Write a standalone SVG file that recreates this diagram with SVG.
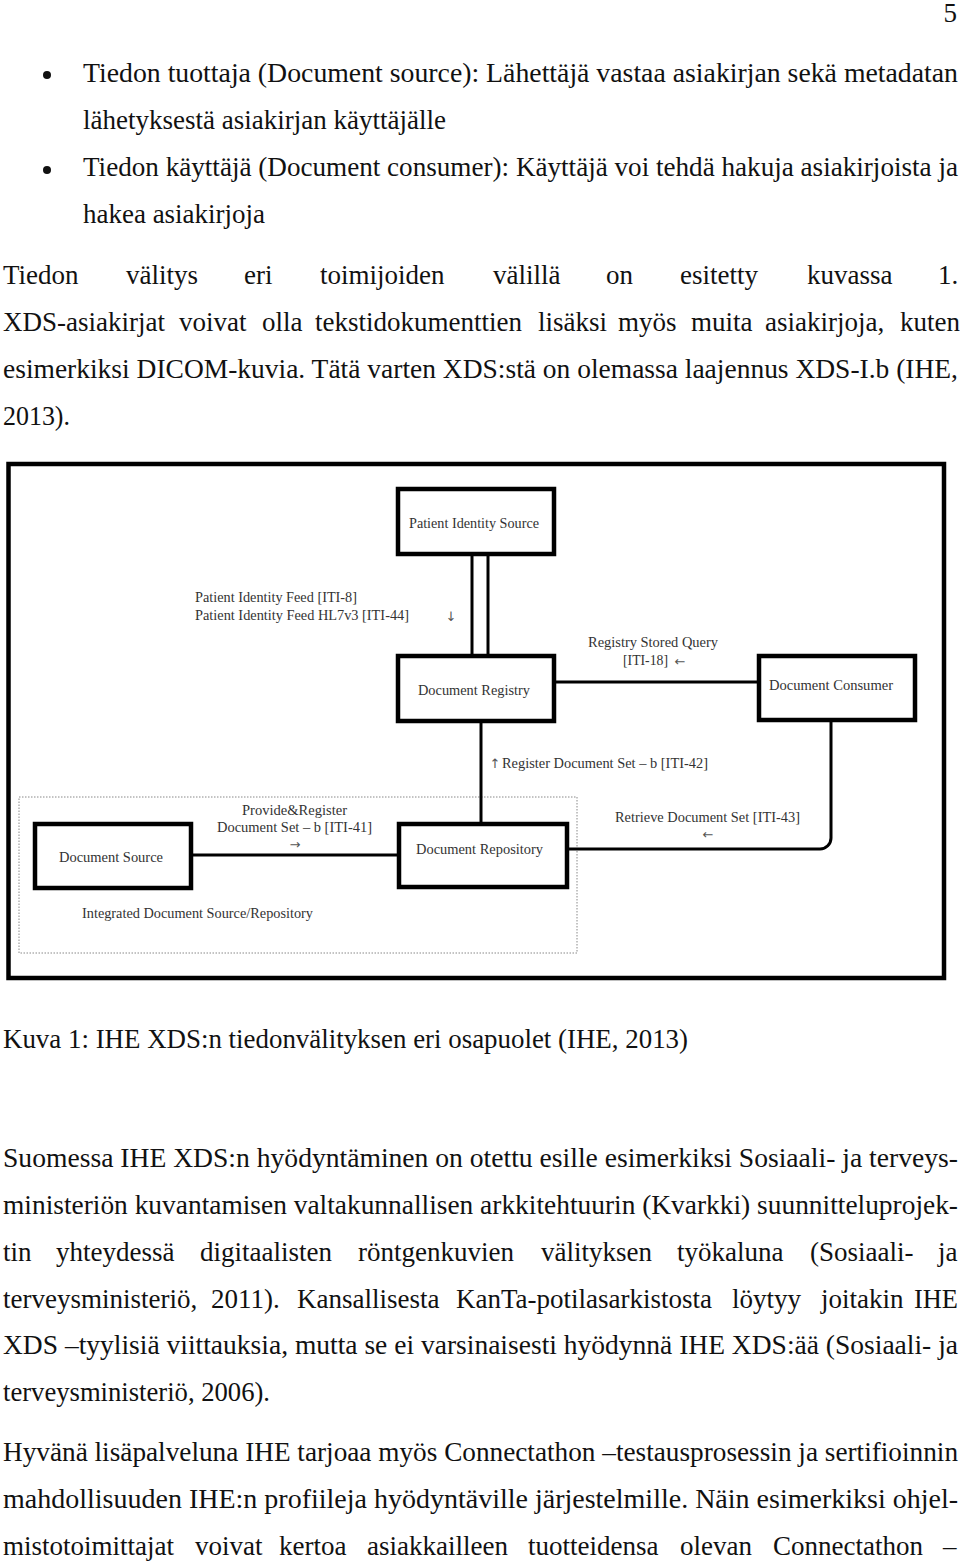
<svg xmlns="http://www.w3.org/2000/svg" width="960" height="1561" viewBox="0 0 960 1561">
<style>
.t{font-family:"Liberation Serif","Times New Roman",serif;font-size:27px;fill:#111}
.l{font-family:"Liberation Serif","DejaVu Serif",serif;font-size:14px;fill:#333}
.ar{font-family:"DejaVu Sans","Liberation Serif",sans-serif;font-size:13px;fill:#555}
.box{fill:#fff;stroke:#000;stroke-width:4.5}
.c{fill:none;stroke:#000;stroke-width:3}
</style>
<rect width="960" height="1561" fill="#fff"/>
<g id="page-text">
<text class="t" x="957" y="22" text-anchor="end">5</text>
<circle cx="47" cy="75" r="4" fill="#111"/>
<circle cx="47" cy="170" r="4" fill="#111"/>
<text class="t" x="83" y="82" textLength="875" lengthAdjust="spacingAndGlyphs">Tiedon tuottaja (Document source): Lähettäjä vastaa asiakirjan sekä metadatan</text>
<text class="t" x="83" y="129" textLength="363" lengthAdjust="spacingAndGlyphs">lähetyksestä asiakirjan käyttäjälle</text>
<text class="t" x="83" y="176" textLength="875" lengthAdjust="spacingAndGlyphs">Tiedon käyttäjä (Document consumer): Käyttäjä voi tehdä hakuja asiakirjoista ja</text>
<text class="t" x="83" y="223" textLength="182" lengthAdjust="spacingAndGlyphs">hakea asiakirjoja</text>
<text class="t" y="284"><tspan x="3">Tiedon</tspan><tspan x="126">välitys</tspan><tspan x="244">eri</tspan><tspan x="320">toimijoiden</tspan><tspan x="493">välillä</tspan><tspan x="606">on</tspan><tspan x="680">esitetty</tspan><tspan x="807">kuvassa</tspan><tspan x="938">1.</tspan></text>
<text class="t" y="331"><tspan x="3">XDS-asiakirjat</tspan><tspan x="179">voivat</tspan><tspan x="262">olla</tspan><tspan x="315">tekstidokumenttien</tspan><tspan x="538">lisäksi</tspan><tspan x="618">myös</tspan><tspan x="691">muita</tspan><tspan x="765">asiakirjoja,</tspan><tspan x="900">kuten</tspan></text>
<text class="t" x="3" y="378" textLength="955" lengthAdjust="spacingAndGlyphs">esimerkiksi DICOM-kuvia. Tätä varten XDS:stä on olemassa laajennus XDS-I.b (IHE,</text>
<text class="t" x="3" y="425" textLength="67" lengthAdjust="spacingAndGlyphs">2013).</text>
<text class="t" x="3" y="1048" textLength="685" lengthAdjust="spacingAndGlyphs">Kuva 1: IHE XDS:n tiedonvälityksen eri osapuolet (IHE, 2013)</text>
<text class="t" x="3" y="1167" textLength="955" lengthAdjust="spacingAndGlyphs">Suomessa IHE XDS:n hyödyntäminen on otettu esille esimerkiksi Sosiaali- ja terveys-</text>
<text class="t" x="3" y="1214" textLength="955" lengthAdjust="spacingAndGlyphs">ministeriön kuvantamisen valtakunnallisen arkkitehtuurin (Kvarkki) suunnitteluprojek-</text>
<text class="t" y="1261"><tspan x="3">tin</tspan><tspan x="56">yhteydessä</tspan><tspan x="200">digitaalisten</tspan><tspan x="358">röntgenkuvien</tspan><tspan x="541">välityksen</tspan><tspan x="677">työkaluna</tspan><tspan x="810">(Sosiaali-</tspan><tspan x="938">ja</tspan></text>
<text class="t" y="1308"><tspan x="3">terveysministeriö,</tspan><tspan x="211">2011).</tspan><tspan x="297">Kansallisesta</tspan><tspan x="456">KanTa-potilasarkistosta</tspan><tspan x="732">löytyy</tspan><tspan x="821">joitakin</tspan></text>
<text class="t" x="914" y="1308" textLength="44" lengthAdjust="spacingAndGlyphs">IHE</text>
<text class="t" x="3" y="1354" textLength="955" lengthAdjust="spacingAndGlyphs">XDS –tyylisiä viittauksia, mutta se ei varsinaisesti hyödynnä IHE XDS:ää (Sosiaali- ja</text>
<text class="t" x="3" y="1401" textLength="267" lengthAdjust="spacingAndGlyphs">terveysministeriö, 2006).</text>
<text class="t" x="3" y="1461" textLength="955" lengthAdjust="spacingAndGlyphs">Hyvänä lisäpalveluna IHE tarjoaa myös Connectathon –testausprosessin ja sertifioinnin</text>
<text class="t" x="3" y="1508" textLength="955" lengthAdjust="spacingAndGlyphs">mahdollisuuden IHE:n profiileja hyödyntäville järjestelmille. Näin esimerkiksi ohjel-</text>
<text class="t" y="1555"><tspan x="3">mistotoimittajat</tspan><tspan x="195">voivat</tspan><tspan x="279">kertoa</tspan><tspan x="367">asiakkailleen</tspan><tspan x="528">tuotteidensa</tspan><tspan x="680">olevan</tspan><tspan x="773">Connectathon</tspan><tspan x="943">–</tspan></text>
</g>
<g id="figure">
<rect x="8.5" y="464" width="935.5" height="514" fill="none" stroke="#000" stroke-width="4.5"/>
<rect id="integrated-group" x="19" y="797" width="558" height="156" fill="none" stroke="#888" stroke-width="1" stroke-dasharray="1.5 1.5"/>
<g id="connectors">
<line class="c" x1="472" y1="556" x2="472" y2="654"/>
<line class="c" x1="488" y1="556" x2="488" y2="654"/>
<line class="c" x1="556" y1="682" x2="757" y2="682"/>
<line class="c" x1="481" y1="723" x2="481" y2="822"/>
<line class="c" x1="193" y1="855" x2="397" y2="855"/>
<path class="c" d="M831 722 V838 A11 11 0 0 1 820 849 H569"/>
<text class="l" x="195" y="602" textLength="162" lengthAdjust="spacingAndGlyphs">Patient Identity Feed [ITI-8]</text>
<text class="l" x="195" y="620" textLength="214" lengthAdjust="spacingAndGlyphs">Patient Identity Feed HL7v3 [ITI-44]</text>
<text class="ar" x="451" y="621" text-anchor="middle">↓</text>
<text class="l" x="588" y="647" textLength="130" lengthAdjust="spacingAndGlyphs">Registry Stored Query</text>
<text class="l" x="623" y="665" textLength="45" lengthAdjust="spacingAndGlyphs">[ITI-18]</text>
<text class="ar" x="680" y="666" text-anchor="middle" fill="#222">←</text>
<text class="ar" x="495" y="768" text-anchor="middle">↑</text>
<text class="l" x="502" y="768" textLength="206" lengthAdjust="spacingAndGlyphs">Register Document Set – b [ITI-42]</text>
<text class="l" x="242" y="815" textLength="105" lengthAdjust="spacingAndGlyphs">Provide&amp;Register</text>
<text class="l" x="217" y="832" textLength="155" lengthAdjust="spacingAndGlyphs">Document Set – b [ITI-41]</text>
<text class="ar" x="295" y="849" text-anchor="middle" fill="#222">→</text>
<text class="l" x="615" y="822" textLength="185" lengthAdjust="spacingAndGlyphs">Retrieve Document Set [ITI-43]</text>
<text class="ar" x="708" y="839" text-anchor="middle" fill="#222">←</text>
<text class="l" x="82" y="918" textLength="231" lengthAdjust="spacingAndGlyphs">Integrated Document Source/Repository</text>
</g>
<g id="patient-identity-source">
<rect class="box" x="398" y="489" width="156" height="65"/>
<text class="l" x="409" y="528" textLength="130" lengthAdjust="spacingAndGlyphs">Patient Identity Source</text>
</g>
<g id="document-registry">
<rect class="box" x="398" y="656" width="156" height="65"/>
<text class="l" x="418" y="695" textLength="112" lengthAdjust="spacingAndGlyphs">Document Registry</text>
</g>
<g id="document-consumer">
<rect class="box" x="759" y="656" width="156" height="64"/>
<text class="l" x="769" y="690" textLength="124" lengthAdjust="spacingAndGlyphs">Document Consumer</text>
</g>
<g id="document-repository">
<rect class="box" x="399" y="824" width="168" height="63"/>
<text class="l" x="416" y="854" textLength="127" lengthAdjust="spacingAndGlyphs">Document Repository</text>
</g>
<g id="document-source">
<rect class="box" x="35" y="824" width="156" height="64"/>
<text class="l" x="59" y="862" textLength="104" lengthAdjust="spacingAndGlyphs">Document Source</text>
</g>
</g>
</svg>
